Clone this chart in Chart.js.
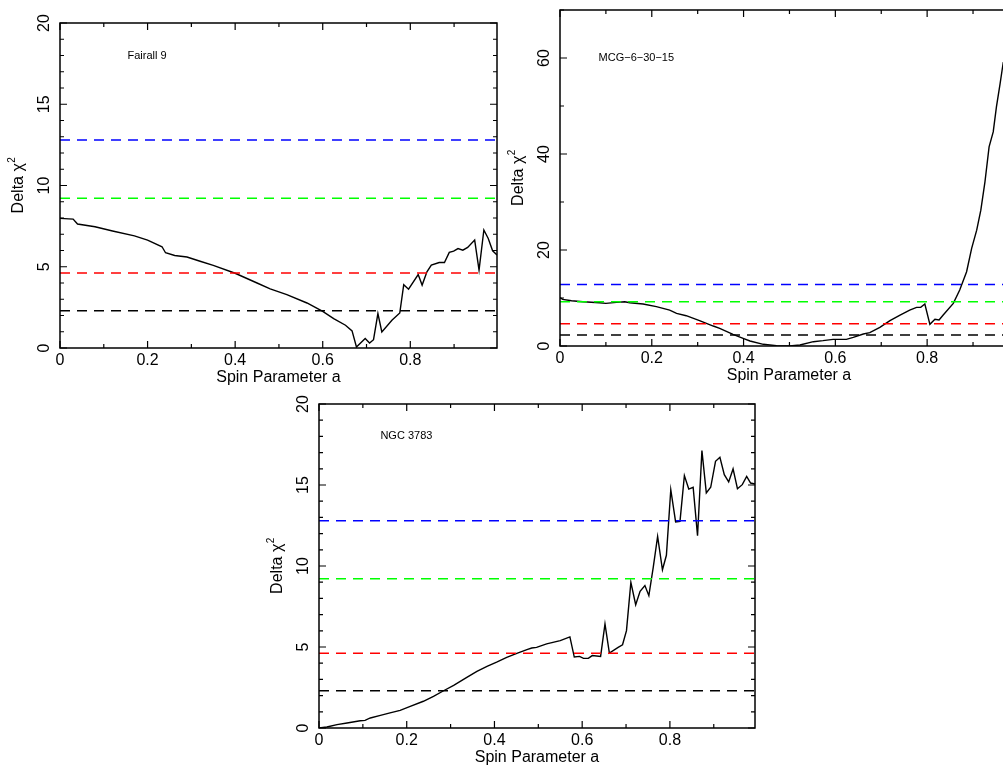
<!DOCTYPE html>
<html>
<head>
<meta charset="utf-8">
<title>Spin parameter scans</title>
<script src="https://cdn.jsdelivr.net/npm/chart.js@4.4.1/dist/chart.umd.min.js"></script>
<style>
  html, body { margin: 0; padding: 0; background: #fff; overflow: hidden; }
  body { width: 1003px; height: 765px; position: relative; }
  canvas { position: absolute; }
</style>
</head>
<body>
<canvas id="fairall9" width="500" height="390" style="left:0;top:0"></canvas>
<canvas id="mcg" width="522" height="390" style="left:500px;top:0"></canvas>
<canvas id="ngc3783" width="500" height="375" style="left:260px;top:390px"></canvas>
<script>
// Fairall 9 scan
const spinFairall9 = [0, 0.03, 0.04, 0.08, 0.12, 0.17, 0.2, 0.233, 0.241, 0.262, 0.29, 0.32, 0.35, 0.4, 0.45, 0.48, 0.518, 0.564, 0.6, 0.625, 0.652, 0.667, 0.677, 0.697, 0.707, 0.716, 0.726, 0.735, 0.758, 0.776, 0.785, 0.796, 0.818, 0.827, 0.838, 0.848, 0.866, 0.878, 0.889, 0.899, 0.909, 0.92, 0.931, 0.947, 0.957, 0.968, 0.978, 0.988, 0.998];
const chi2Fairall9 = [7.98, 7.93, 7.63, 7.46, 7.2, 6.9, 6.64, 6.23, 5.86, 5.69, 5.6, 5.34, 5.08, 4.6, 4.0, 3.64, 3.29, 2.77, 2.25, 1.81, 1.4, 1.05, 0.06, 0.58, 0.31, 0.51, 2.12, 0.99, 1.71, 2.16, 3.9, 3.62, 4.52, 3.87, 4.69, 5.1, 5.26, 5.26, 5.88, 5.96, 6.12, 6.02, 6.19, 6.64, 4.79, 7.26, 6.74, 5.98, 5.72];

// MCG-6-30-15 scan
const spinMcg = [0, 0.006, 0.025, 0.05, 0.086, 0.1, 0.123, 0.141, 0.152, 0.181, 0.21, 0.239, 0.254, 0.275, 0.304, 0.334, 0.348, 0.377, 0.399, 0.414, 0.443, 0.472, 0.5, 0.523, 0.552, 0.573, 0.595, 0.624, 0.639, 0.661, 0.675, 0.697, 0.719, 0.741, 0.762, 0.777, 0.786, 0.795, 0.806, 0.817, 0.826, 0.835, 0.857, 0.871, 0.886, 0.897, 0.908, 0.917, 0.926, 0.935, 0.944, 0.951, 0.959, 0.966];
const chi2Mcg = [10.06, 9.7, 9.43, 9.23, 9.02, 8.88, 9.09, 9.23, 9.02, 8.74, 8.19, 7.49, 6.8, 6.31, 5.27, 4.16, 3.68, 2.43, 1.6, 1.04, 0.35, 0.07, 0, 0.21, 0.9, 1.11, 1.39, 1.39, 1.8, 2.5, 2.77, 3.88, 5.27, 6.45, 7.49, 8.05, 8.05, 8.74, 4.51, 5.55, 5.41, 6.45, 8.88, 11.65, 15.47, 20.33, 24.14, 28.3, 34.2, 41.48, 44.6, 49.8, 54.67, 59.17];

// NGC 3783 scan
const spinNgc3783 = [0, 0.018, 0.041, 0.064, 0.094, 0.105, 0.117, 0.14, 0.162, 0.185, 0.208, 0.238, 0.261, 0.284, 0.307, 0.337, 0.36, 0.383, 0.405, 0.428, 0.451, 0.474, 0.485, 0.496, 0.519, 0.55, 0.572, 0.582, 0.594, 0.603, 0.614, 0.623, 0.642, 0.652, 0.662, 0.682, 0.692, 0.701, 0.711, 0.722, 0.732, 0.743, 0.752, 0.762, 0.772, 0.783, 0.792, 0.802, 0.813, 0.823, 0.833, 0.843, 0.853, 0.863, 0.873, 0.883, 0.893, 0.904, 0.914, 0.924, 0.934, 0.944, 0.954, 0.965, 0.975, 0.984, 0.994];
const chi2Ngc3783 = [0, 0.06, 0.21, 0.31, 0.45, 0.47, 0.62, 0.78, 0.93, 1.09, 1.34, 1.65, 1.95, 2.3, 2.63, 3.13, 3.5, 3.81, 4.07, 4.36, 4.61, 4.84, 4.94, 4.98, 5.19, 5.39, 5.62, 4.38, 4.42, 4.3, 4.3, 4.47, 4.42, 6.42, 4.63, 4.98, 5.14, 6.01, 8.99, 7.61, 8.44, 8.79, 8.17, 9.92, 11.83, 9.77, 10.66, 14.71, 12.72, 12.76, 15.58, 14.75, 14.86, 11.87, 17.12, 14.51, 14.86, 16.46, 16.71, 15.64, 15.19, 15.99, 14.77, 15.02, 15.53, 15.12, 15.06];

// Delta chi^2 confidence levels (68, 90, 99, 99.7 per cent, two parameters)
const confLevels = [2.3, 4.61, 9.21, 12.8];
const confColors = ['#000000', '#ff0000', '#00ff00', '#0000ff'];

const xTicks = [0, 0.2, 0.4, 0.6, 0.8];
const xTickLabels = ['0', '0.2', '0.4', '0.6', '0.8'];
const yTicksSmall = [0, 5, 10, 15, 20];
const yTicksLarge = [0, 20, 40, 60];

const FONT = '"Liberation Sans", Arial, Helvetica, sans-serif';

// frame with inward ticks on all sides, rotated y labels, titles and the source name
const frameAxes = {
  id: 'frameAxes',
  afterDatasetsDraw(chart, args, o) {
    const ctx = chart.ctx;
    const { left, right, top, bottom } = chart.chartArea;
    const xs = chart.scales.x, ys = chart.scales.y;
    ctx.save();
    ctx.strokeStyle = '#000';
    ctx.fillStyle = '#000';
    ctx.lineWidth = 1.5;
    ctx.strokeRect(left, top, right - left, bottom - top);

    // x ticks every 0.1, long ones on labelled values
    ctx.lineWidth = 1.2;
    ctx.beginPath();
    for (let k = 0; k * 0.1 <= xs.max + 1e-9; k++) {
      const px = xs.getPixelForValue(k * 0.1);
      const len = k % 2 === 0 ? 7 : 4;
      ctx.moveTo(px, bottom); ctx.lineTo(px, bottom - len);
      ctx.moveTo(px, top); ctx.lineTo(px, top + len);
    }
    for (let v = 0; v <= ys.max + 1e-9; v += o.yMinor) {
      const py = ys.getPixelForValue(v);
      const len = Math.abs(v % o.yMajor) < 1e-9 ? 7 : 4;
      ctx.moveTo(left, py); ctx.lineTo(left + len, py);
      ctx.moveTo(right, py); ctx.lineTo(right - len, py);
    }
    ctx.stroke();

    ctx.font = '16px ' + FONT;
    ctx.textAlign = 'center';
    ctx.textBaseline = 'middle';
    xTicks.forEach((v, i) => {
      ctx.fillText(xTickLabels[i], xs.getPixelForValue(v), bottom + 13);
    });
    o.yTicks.forEach(v => {
      ctx.save();
      ctx.translate(left - 15, ys.getPixelForValue(v));
      ctx.rotate(-Math.PI / 2);
      ctx.fillText(String(v), 0, 0);
      ctx.restore();
    });

    ctx.fillText('Spin Parameter a', (left + right) / 2, bottom + 30);

    // y title: Delta chi with superscript 2
    ctx.save();
    ctx.translate(left - 43, (top + bottom) / 2);
    ctx.rotate(-Math.PI / 2);
    ctx.textAlign = 'left';
    ctx.textBaseline = 'alphabetic';
    ctx.font = '16px ' + FONT;
    const main = 'Delta \u03C7';
    const w1 = ctx.measureText(main).width;
    ctx.font = '10px ' + FONT;
    const w2 = ctx.measureText('2').width;
    const x0 = -(w1 + w2) / 2;
    ctx.font = '16px ' + FONT;
    ctx.fillText(main, x0, 6);
    ctx.font = '10px ' + FONT;
    ctx.fillText('2', x0 + w1 + 0.5, -2);
    ctx.restore();

    ctx.font = '11px ' + FONT;
    ctx.textAlign = 'left';
    ctx.textBaseline = 'middle';
    ctx.fillText(o.name, xs.getPixelForValue(o.nameAt[0]), ys.getPixelForValue(o.nameAt[1]));
    ctx.restore();
  }
};

function buildPanel(id, spin, chi2, cfg) {
  const levels = confLevels.map((lv, i) => ({
    data: [{ x: 0, y: lv }, { x: cfg.xMax, y: lv }],
    borderColor: confColors[i],
    borderWidth: 1.5,
    borderDash: [10, 7],
    pointRadius: 0,
    showLine: true
  }));
  const curve = {
    data: spin.map((a, i) => ({ x: a, y: chi2[i] })),
    borderColor: '#000',
    borderWidth: 1.4,
    pointRadius: 0,
    showLine: true,
    tension: 0
  };
  return new Chart(document.getElementById(id), {
    type: 'scatter',
    data: { datasets: [...levels, curve] },
    options: {
      responsive: false,
      animation: false,
      events: [],
      layout: { padding: cfg.pad },
      plugins: {
        legend: { display: false },
        tooltip: { enabled: false },
        frameAxes: {
          name: cfg.name, nameAt: cfg.nameAt,
          yTicks: cfg.yTicks, yMajor: cfg.yMajor, yMinor: cfg.yMinor
        }
      },
      scales: {
        x: { type: 'linear', min: 0, max: cfg.xMax, display: false },
        y: { type: 'linear', min: 0, max: cfg.yMax, display: false }
      }
    },
    plugins: [frameAxes]
  });
}

buildPanel('fairall9', spinFairall9, chi2Fairall9, {
  xMax: 0.998, yMax: 20, yTicks: yTicksSmall, yMajor: 5, yMinor: 1,
  name: 'Fairall 9', nameAt: [0.154, 18],
  pad: { left: 60, top: 23, right: 3, bottom: 42 }
});
buildPanel('mcg', spinMcg, chi2Mcg, {
  xMax: 0.998, yMax: 70, yTicks: yTicksLarge, yMajor: 20, yMinor: 10,
  name: 'MCG\u22126\u221230\u221215', nameAt: [0.084, 60],
  pad: { left: 60, top: 10, right: 4, bottom: 44 }
});
buildPanel('ngc3783', spinNgc3783, chi2Ngc3783, {
  xMax: 0.994, yMax: 20, yTicks: yTicksSmall, yMajor: 5, yMinor: 1,
  name: 'NGC 3783', nameAt: [0.14, 18],
  pad: { left: 59, top: 14, right: 5, bottom: 37 }
});
</script>
</body>
</html>
